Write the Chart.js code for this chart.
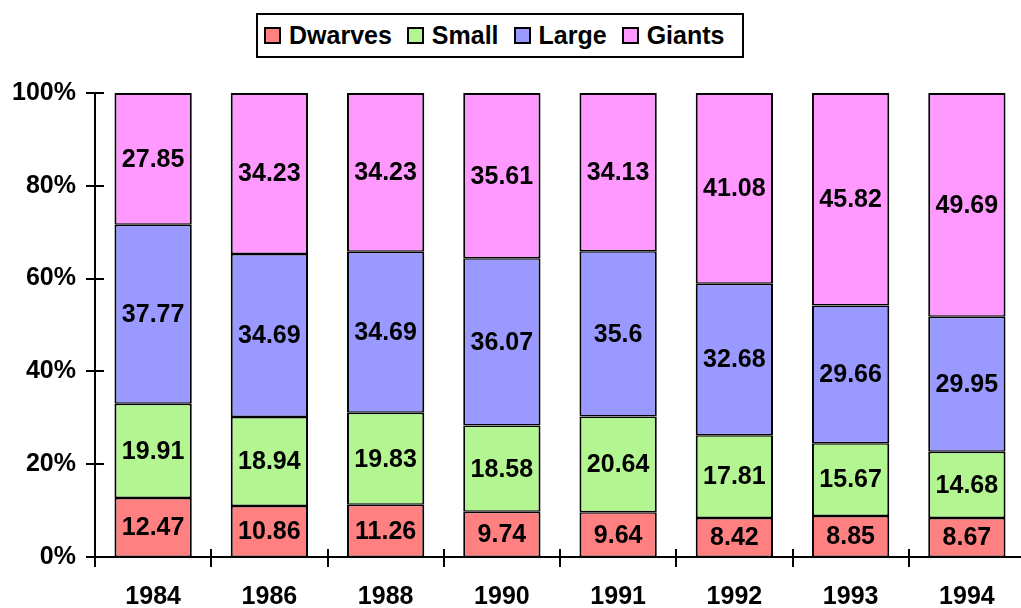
<!DOCTYPE html>
<html>
<head>
<meta charset="utf-8">
<script src="https://cdn.jsdelivr.net/npm/chart.js@4/dist/chart.umd.min.js"></script>
<style>
  html, body { margin: 0; padding: 0; background: #fff; overflow: hidden; }
  #wrap { position: relative; width: 1025px; height: 608px; }
  #legend {
    position: absolute; left: 256px; top: 13px; width: 488px; height: 45px;
    box-sizing: border-box; border: 2px solid #000; background: #fff;
    padding-left: 6px;
    display: flex; align-items: center; justify-content: flex-start;
    font: bold 25px "Liberation Sans", Arial, sans-serif; color: #000;
  }
  #legend .item { display: flex; align-items: center; margin-right: 15px; }
  #legend .box { width: 17px; height: 17px; box-sizing: border-box; border: 2px solid #000; margin-right: 8px; }
</style>
</head>
<body>
<div id="wrap">
  <canvas id="c"></canvas>
  <div id="legend"></div>
</div>
<script>
// values as printed on the bars (each bar is scaled to 100%)
const years = ['1984', '1986', '1988', '1990', '1991', '1992', '1993', '1994'];
const dwarves = [12.47, 10.86, 11.26, 9.74, 9.64, 8.42, 8.85, 8.67];
const small = [19.91, 18.94, 19.83, 18.58, 20.64, 17.81, 15.67, 14.68];
const large = [37.77, 34.69, 34.69, 36.07, 35.6, 32.68, 29.66, 29.95];
const giants = [27.85, 34.23, 34.23, 35.61, 34.13, 41.08, 45.82, 49.69];
const seriesNames = ['Dwarves', 'Small', 'Large', 'Giants'];
const seriesColors = ['#FF8080', '#B3F590', '#9999FF', '#FF99FF'];
const yTicks = [0, 20, 40, 60, 80, 100];

const FONT = '"Liberation Sans", Arial, sans-serif';
const raw = [dwarves, small, large, giants];
const totals = years.map((y, i) => raw.reduce((s, arr) => s + arr[i], 0));

const datasets = raw.map((arr, k) => ({
  label: seriesNames[k],
  data: arr.map((v, i) => v / totals[i] * 100),
  rawValues: arr,
  backgroundColor: seriesColors[k],
  borderColor: '#000',
  borderWidth: { left: 2, right: 2, top: k === 3 ? 2 : 1.5, bottom: 1.5 },
  borderSkipped: false,
  categoryPercentage: 1,
  barPercentage: 0.665
}));

// legend in html, built from the chart data
const htmlLegend = {
  id: 'htmlLegend',
  afterUpdate(chart) {
    const box = document.getElementById('legend');
    while (box.firstChild) box.firstChild.remove();
    chart.data.datasets.forEach(ds => {
      const item = document.createElement('div');
      item.className = 'item';
      const sw = document.createElement('span');
      sw.className = 'box';
      sw.style.background = ds.backgroundColor;
      const txt = document.createElement('span');
      txt.textContent = ds.label;
      item.appendChild(sw);
      item.appendChild(txt);
      box.appendChild(item);
    });
  }
};

// value labels in the middle of each segment
const valueLabels = {
  id: 'valueLabels',
  afterDatasetsDraw(chart) {
    const ctx = chart.ctx;
    ctx.save();
    ctx.font = 'bold 25px ' + FONT;
    ctx.fillStyle = '#000';
    ctx.textAlign = 'center';
    ctx.textBaseline = 'middle';
    chart.data.datasets.forEach((ds, k) => {
      chart.getDatasetMeta(k).data.forEach((el, i) => {
        ctx.fillText(String(ds.rawValues[i]), el.x, (el.y + el.base) / 2 + 1);
      });
    });
    ctx.restore();
  }
};

// tick marks that cross the axes
const crossTicks = {
  id: 'crossTicks',
  afterDraw(chart) {
    const ctx = chart.ctx;
    const x = chart.scales.x, y = chart.scales.y;
    const area = chart.chartArea;
    ctx.save();
    ctx.strokeStyle = '#000';
    ctx.lineWidth = 2;
    ctx.beginPath();
    yTicks.forEach(t => {
      const py = Math.round(y.getPixelForValue(t));
      ctx.moveTo(area.left - 9, py);
      ctx.lineTo(area.left + 9, py);
    });
    const step = (area.right - area.left) / years.length;
    for (let i = 0; i <= years.length; i++) {
      const px = Math.round(area.left + i * step);
      ctx.moveTo(px, area.bottom - 8);
      ctx.lineTo(px, area.bottom + 10);
    }
    ctx.stroke();
    ctx.restore();
  }
};

new Chart(document.getElementById('c'), {
  type: 'bar',
  data: { labels: years, datasets: datasets },
  options: {
    responsive: true,
    maintainAspectRatio: false,
    animation: false,
    layout: { padding: { top: 93, right: 0, bottom: 0, left: 0 } },
    plugins: {
      legend: { display: false },
      tooltip: { enabled: false }
    },
    scales: {
      x: {
        stacked: true,
        grid: { display: false, drawTicks: false },
        border: { display: true, color: '#000', width: 2 },
        ticks: {
          color: '#000',
          padding: 28,
          maxRotation: 0,
          font: { family: FONT, size: 25, weight: 'bold', lineHeight: 1 }
        },
        afterFit(scale) { scale.height = 51; }
      },
      y: {
        stacked: true,
        min: 0,
        max: 100,
        grid: { display: false, drawTicks: false },
        border: { display: true, color: '#000', width: 2 },
        afterBuildTicks(scale) { scale.ticks = yTicks.map(v => ({ value: v })); },
        ticks: {
          color: '#000',
          padding: 19,
          callback: v => v + '%',
          font: { family: FONT, size: 25, weight: 'bold' }
        },
        afterFit(scale) { scale.width = 95; }
      }
    }
  },
  plugins: [htmlLegend, valueLabels, crossTicks]
});
</script>
</body>
</html>
